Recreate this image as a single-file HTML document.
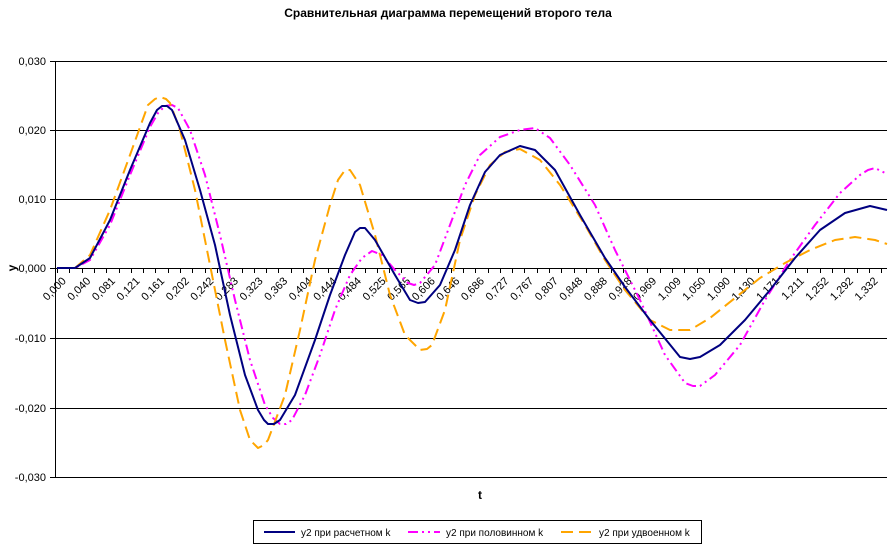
<!DOCTYPE html>
<html><head><meta charset="utf-8"><style>
html,body{margin:0;padding:0;background:#fff;}
svg{display:block;font-family:"Liberation Sans",Arial,sans-serif;}
</style></head><body>
<svg width="893" height="551" viewBox="0 0 893 551" xmlns="http://www.w3.org/2000/svg">
<rect width="893" height="551" fill="#fff"/>
<text x="448" y="17" text-anchor="middle" font-size="12" font-weight="bold">Сравнительная диаграмма перемещений второго тела</text>
<g stroke="#000" stroke-width="1">
<line x1="55" y1="61.5" x2="887" y2="61.5"/>
<line x1="55" y1="130.5" x2="887" y2="130.5"/>
<line x1="55" y1="199.5" x2="887" y2="199.5"/>
<line x1="55" y1="338.5" x2="887" y2="338.5"/>
<line x1="55" y1="408.5" x2="887" y2="408.5"/>
<line x1="55" y1="477.5" x2="887" y2="477.5"/>
<line x1="50" y1="268.5" x2="887" y2="268.5"/>
<line x1="55.5" y1="61" x2="55.5" y2="477"/>
<line x1="50" y1="61.5" x2="55" y2="61.5"/><line x1="50" y1="130.5" x2="55" y2="130.5"/><line x1="50" y1="199.5" x2="55" y2="199.5"/><line x1="50" y1="338.5" x2="55" y2="338.5"/><line x1="50" y1="408.5" x2="55" y2="408.5"/><line x1="50" y1="477.5" x2="55" y2="477.5"/>
<path fill="none" d="M57.5,268V273M69.5,268V273M82.5,268V273M94.5,268V273M106.5,268V273M119.5,268V273M131.5,268V273M143.5,268V273M155.5,268V273M168.5,268V273M180.5,268V273M192.5,268V273M205.5,268V273M217.5,268V273M229.5,268V273M242.5,268V273M254.5,268V273M266.5,268V273M278.5,268V273M291.5,268V273M303.5,268V273M315.5,268V273M328.5,268V273M340.5,268V273M352.5,268V273M365.5,268V273M377.5,268V273M389.5,268V273M401.5,268V273M414.5,268V273M426.5,268V273M438.5,268V273M451.5,268V273M463.5,268V273M475.5,268V273M488.5,268V273M500.5,268V273M512.5,268V273M524.5,268V273M537.5,268V273M549.5,268V273M561.5,268V273M574.5,268V273M586.5,268V273M598.5,268V273M611.5,268V273M623.5,268V273M635.5,268V273M647.5,268V273M660.5,268V273M672.5,268V273M684.5,268V273M697.5,268V273M709.5,268V273M721.5,268V273M734.5,268V273M746.5,268V273M758.5,268V273M770.5,268V273M783.5,268V273M795.5,268V273M807.5,268V273M820.5,268V273M832.5,268V273M844.5,268V273M857.5,268V273M869.5,268V273M881.5,268V273"/>
</g>
<g font-size="11" text-anchor="end">
<text x="46" y="65">0,030</text><text x="46" y="134">0,020</text><text x="46" y="203">0,010</text><text x="46" y="272">0,000</text><text x="46" y="342">-0,010</text><text x="46" y="412">-0,020</text><text x="46" y="481">-0,030</text>
</g>
<text x="12" y="272" font-size="12" font-weight="bold" text-anchor="middle" transform="rotate(-90 12 268)">y</text>
<text x="480" y="499" font-size="12" font-weight="bold" text-anchor="middle">t</text>
<g font-size="11" text-anchor="end">
<text transform="translate(61,276) rotate(-45)" y="8">0,000</text>
<text transform="translate(85.6,276) rotate(-45)" y="8">0,040</text>
<text transform="translate(110.2,276) rotate(-45)" y="8">0,081</text>
<text transform="translate(134.8,276) rotate(-45)" y="8">0,121</text>
<text transform="translate(159.4,276) rotate(-45)" y="8">0,161</text>
<text transform="translate(184,276) rotate(-45)" y="8">0,202</text>
<text transform="translate(208.6,276) rotate(-45)" y="8">0,242</text>
<text transform="translate(233.2,276) rotate(-45)" y="8">0,283</text>
<text transform="translate(257.8,276) rotate(-45)" y="8">0,323</text>
<text transform="translate(282.4,276) rotate(-45)" y="8">0,363</text>
<text transform="translate(307,276) rotate(-45)" y="8">0,404</text>
<text transform="translate(331.6,276) rotate(-45)" y="8">0,444</text>
<text transform="translate(356.2,276) rotate(-45)" y="8">0,484</text>
<text transform="translate(380.8,276) rotate(-45)" y="8">0,525</text>
<text transform="translate(405.4,276) rotate(-45)" y="8">0,565</text>
<text transform="translate(430,276) rotate(-45)" y="8">0,606</text>
<text transform="translate(454.6,276) rotate(-45)" y="8">0,646</text>
<text transform="translate(479.2,276) rotate(-45)" y="8">0,686</text>
<text transform="translate(503.8,276) rotate(-45)" y="8">0,727</text>
<text transform="translate(528.4,276) rotate(-45)" y="8">0,767</text>
<text transform="translate(553,276) rotate(-45)" y="8">0,807</text>
<text transform="translate(577.6,276) rotate(-45)" y="8">0,848</text>
<text transform="translate(602.2,276) rotate(-45)" y="8">0,888</text>
<text transform="translate(626.8,276) rotate(-45)" y="8">0,928</text>
<text transform="translate(651.4,276) rotate(-45)" y="8">0,969</text>
<text transform="translate(676,276) rotate(-45)" y="8">1,009</text>
<text transform="translate(700.6,276) rotate(-45)" y="8">1,050</text>
<text transform="translate(725.2,276) rotate(-45)" y="8">1,090</text>
<text transform="translate(749.8,276) rotate(-45)" y="8">1,130</text>
<text transform="translate(774.4,276) rotate(-45)" y="8">1,171</text>
<text transform="translate(799,276) rotate(-45)" y="8">1,211</text>
<text transform="translate(823.6,276) rotate(-45)" y="8">1,252</text>
<text transform="translate(848.2,276) rotate(-45)" y="8">1,292</text>
<text transform="translate(872.8,276) rotate(-45)" y="8">1,332</text>
</g>
<g fill="none" stroke-linejoin="round" stroke-linecap="butt">
<polyline stroke="#ff00ff" stroke-width="2" stroke-dasharray="10,4,2,4,2,4" points="57,268 75,268 90,260 110,225 130,175 150,127 158,113 165,106 172,105 178,108 190,130 205,175 220,235 235,300 250,360 265,405 273,418 280,424 286,424 292,420 305,395 320,355 335,310 350,275 362,258 372,251 382,255 395,270 408,283 414,285 420,283 435,265 450,225 465,185 480,155 500,137 520,130 535,128 550,138 570,165 595,205 615,250 640,300 665,355 685,383 693,386 700,386 715,375 740,345 765,300 790,260 815,225 840,193 860,175 868,170 875,168 887,174"/>
<polyline stroke="#ffa500" stroke-width="2" stroke-dasharray="12,6" points="57,268 75,268 90,255 110,210 130,155 148,105 155,99 160,97 166,99 170,103 180,130 195,190 210,265 225,340 240,410 250,440 258,448 264,445 268,440 285,395 300,330 315,260 330,205 338,180 345,170 350,170 360,185 375,235 390,295 405,335 420,350 427,349 432,345 445,310 460,240 475,195 490,165 505,152 520,149 540,160 560,185 585,225 605,260 625,290 650,320 670,330 690,330 710,318 735,298 760,278 785,263 810,250 835,240 855,237 875,240 887,244"/>
<polyline stroke="#000080" stroke-width="2" points="57,268 75,268 90,258 110,220 130,170 150,123 157,110 162,106 167,106 172,110 185,140 200,190 215,245 230,315 245,375 258,410 264,420 268,424 274,424 280,420 295,395 315,340 330,295 345,255 355,232 360,228 365,228 375,240 395,275 410,300 418,303 425,302 440,285 455,250 470,205 485,172 500,155 520,146 535,150 555,170 580,215 605,258 625,287 650,320 680,357 690,359 700,357 720,345 745,320 770,290 795,258 820,230 845,213 870,206 887,210"/>
</g>
<rect x="253.5" y="520.5" width="448" height="23" fill="#fff" stroke="#000"/>
<line x1="264" y1="532" x2="295" y2="532" stroke="#000080" stroke-width="2"/>
<text x="301" y="536" font-size="10">y2 при расчетном k</text>
<line x1="408" y1="532" x2="440" y2="532" stroke="#ff00ff" stroke-width="2" stroke-dasharray="10,4,2,4,2,4"/>
<text x="446" y="536" font-size="10">y2 при половинном k</text>
<line x1="561" y1="532" x2="593" y2="532" stroke="#ffa500" stroke-width="2" stroke-dasharray="12,6"/>
<text x="599" y="536" font-size="10">y2 при удвоенном k</text>
</svg>
</body></html>
